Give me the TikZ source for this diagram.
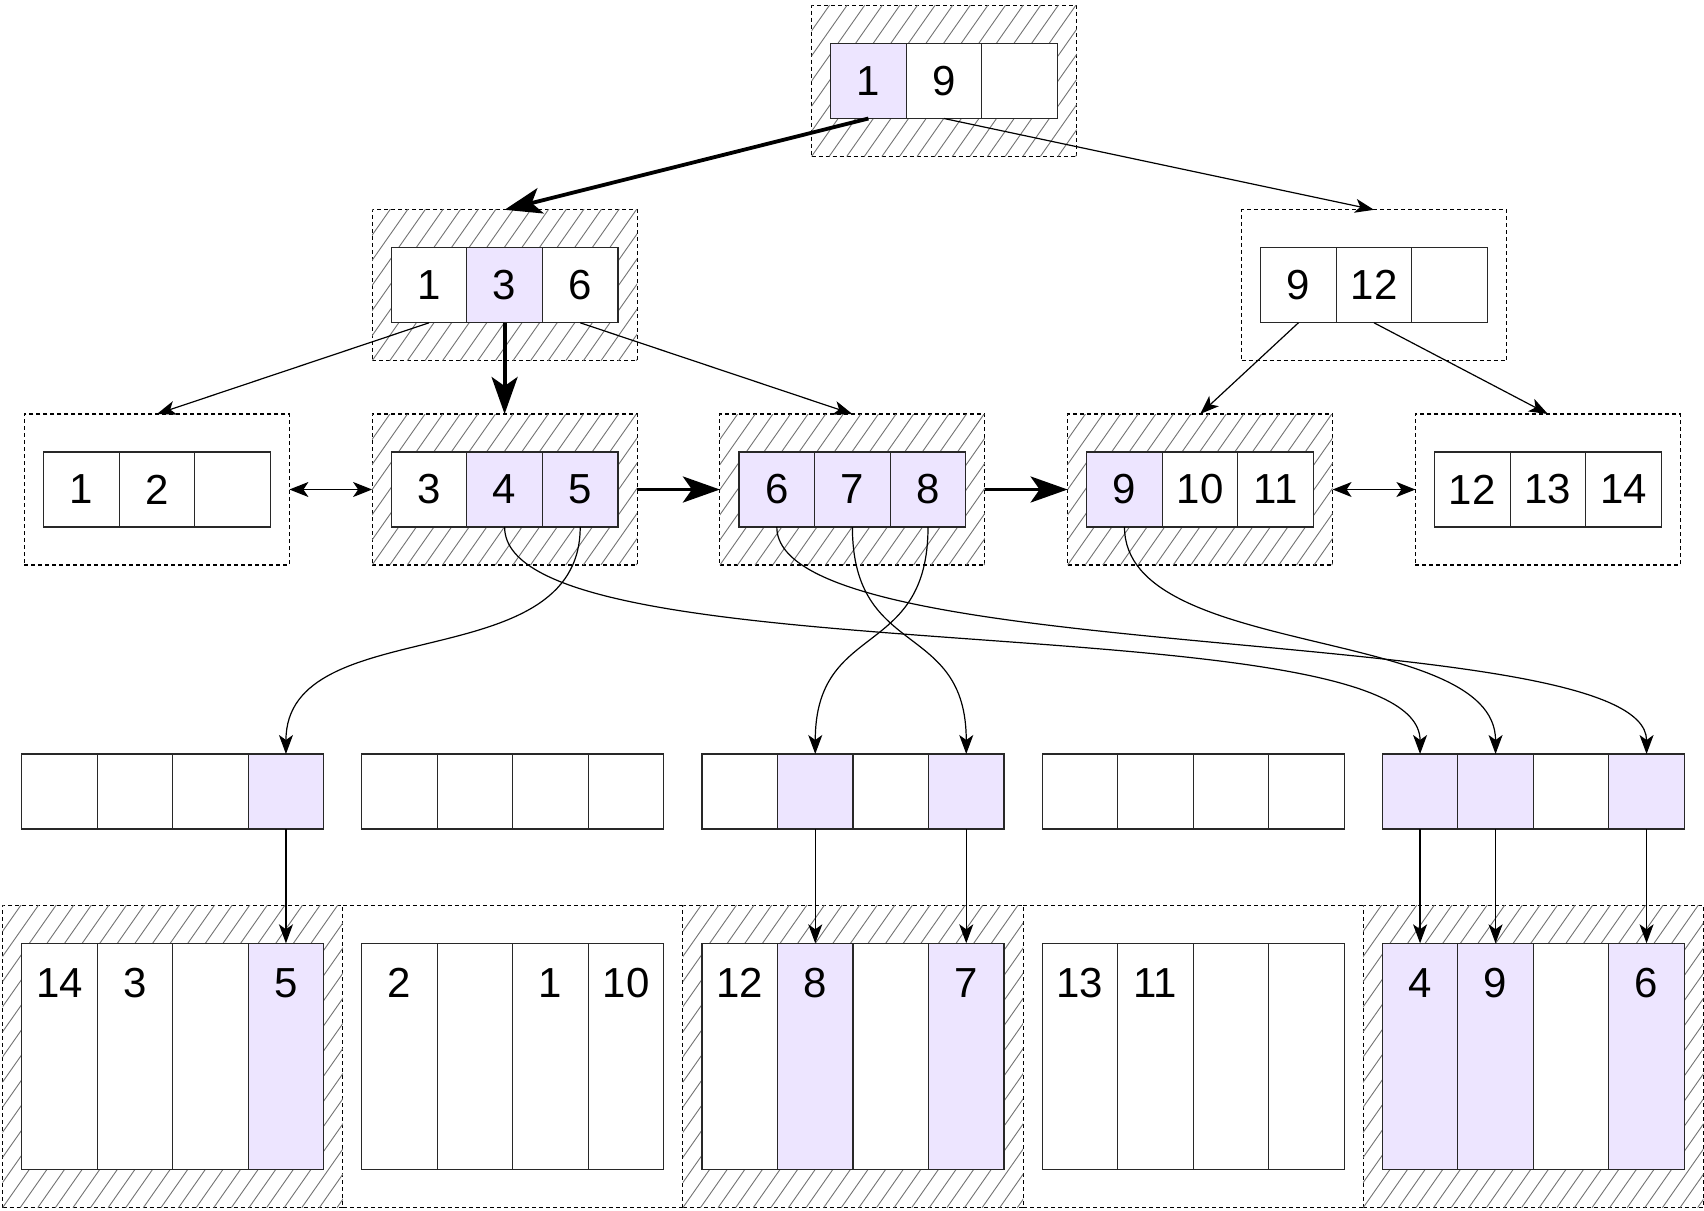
\documentclass[tikz,border=0pt]{standalone}
\usepackage{fontspec}
\setmainfont{Liberation Sans}
\usetikzlibrary{arrows.meta}
\definecolor{hlc}{RGB}{237,229,255}
\definecolor{cellline}{RGB}{40,40,40}
\tikzset{
  cell/.style={draw=cellline, line width=1.1pt, fill=white, minimum width=75.6pt, minimum height=75pt,
    inner sep=0pt, outer sep=0pt, anchor=north west, font=\fontsize{42}{48}\selectfont},
  rcell/.style={cell, minimum width=75.5pt},
  tallcell/.style={rcell, minimum height=226.4pt, text height=31pt, text depth=148.6pt},
  hl/.style={fill=hlc},
  dashline/.style={draw=black, line width=1.1pt, dash pattern=on 4pt off 3pt},
  pagebox/.style={dashline, inner sep=0pt, outer sep=0pt, minimum width=265pt, minimum height=151pt},
  bigpage/.style={pagebox, minimum width=340.2pt, minimum height=302.2pt},
  openpage/.style={inner sep=0pt, outer sep=0pt, minimum width=340.2pt, minimum height=302.2pt},
  hatchline/.style={draw=black!55, line width=0.9pt},
  thinarr/.style={draw=black, line width=1.2pt, -{Stealth[length=19pt,width=14pt,inset=5pt]}},
  dblarr/.style={draw=black, line width=1.2pt, {Stealth[length=19pt,width=15pt,inset=5pt]}-{Stealth[length=19pt,width=15pt,inset=5pt]}},
  thickarr/.style={draw=black, line width=3.8pt, -{Stealth[length=37pt,width=26pt,inset=9pt]}}
}
\newcommand\hatchbox[1]{%
  \begin{scope}
    \clip (#1.south west) rectangle (#1.north east);
    \foreach \k in {-14,...,22}
      \draw[hatchline] ([xshift=\k*17.6pt]#1.south west) -- ++(220,-314);
  \end{scope}}
\begin{document}
\begin{tikzpicture}[x=1pt,y=-1pt]
\fill[white] (0,0) rectangle (1704,1210);
\useasboundingbox (0,0) rectangle (1704,1210);

% ---------- dashed page boxes ----------
\node[pagebox] (tb) at (944,81) {};
\node[pagebox] (la) at (504.6,285.3) {};
\node[pagebox] (lb) at (1374,285.3) {};
\node[pagebox] (pa) at (156.9,489.5) {};
\node[pagebox] (pb) at (504.6,489.5) {};
\node[pagebox] (pc) at (852.4,489.5) {};
\node[pagebox] (pd) at (1200.1,489.5) {};
\node[pagebox] (pe) at (1547.9,489.5) {};
\node[bigpage] (bp1) at (172.7,1056.5) {};
\node[openpage] (bp2) at (512.85,1056.5) {};
\node[bigpage] (bp3) at (853.0,1056.5) {};
\node[openpage] (bp4) at (1193.15,1056.5) {};
\node[bigpage] (bp5) at (1533.3,1056.5) {};
\draw[dashline] (bp2.north west) -- (bp2.north east) (bp2.south west) -- (bp2.south east);
\draw[dashline] (bp4.north west) -- (bp4.north east) (bp4.south west) -- (bp4.south east);

\hatchbox{tb}
\hatchbox{la}
\hatchbox{pb}
\hatchbox{pc}
\hatchbox{pd}
\hatchbox{bp1}
\hatchbox{bp3}
\hatchbox{bp5}

% ---------- top node ----------
\node[cell,hl] (t1) at (830.6,43.5) {1};
\node[cell] (t2) at (t1.north east) {9};
\node[cell] (t3) at (t2.north east) {};

% ---------- level 1 ----------
\node[cell] (la1) at (391.2,247.8) {1};
\node[cell,hl] (la2) at (la1.north east) {3};
\node[cell] (la3) at (la2.north east) {6};
\node[cell] (lb1) at (1260.6,247.8) {9};
\node[cell] (lb2) at (lb1.north east) {12};
\node[cell] (lb3) at (lb2.north east) {};

% ---------- level 2 ----------
\node[cell] (pa1) at (43.5,452) {1};
\node[cell] (pa2) at (pa1.north east) {2};
\node[cell] (pa3) at (pa2.north east) {};
\node[cell] (pb1) at (391.2,452) {3};
\node[cell,hl] (pb2) at (pb1.north east) {4};
\node[cell,hl] (pb3) at (pb2.north east) {5};
\node[cell,hl] (pc1) at (739,452) {6};
\node[cell,hl] (pc2) at (pc1.north east) {7};
\node[cell,hl] (pc3) at (pc2.north east) {8};
\node[cell,hl] (pd1) at (1086.7,452) {9};
\node[cell] (pd2) at (pd1.north east) {10};
\node[cell] (pd3) at (pd2.north east) {11};
\node[cell] (pe1) at (1434.5,452) {12};
\node[cell] (pe2) at (pe1.north east) {13};
\node[cell] (pe3) at (pe2.north east) {14};

% ---------- slot rows ----------
\node[rcell] (r1-1) at (21.7,754) {};
\node[rcell] (r1-2) at (r1-1.north east) {};
\node[rcell] (r1-3) at (r1-2.north east) {};
\node[rcell,hl] (r1-4) at (r1-3.north east) {};
\node[rcell] (r2-1) at (361.85,754) {};
\node[rcell] (r2-2) at (r2-1.north east) {};
\node[rcell] (r2-3) at (r2-2.north east) {};
\node[rcell] (r2-4) at (r2-3.north east) {};
\node[rcell] (r3-1) at (702.0,754) {};
\node[rcell,hl] (r3-2) at (r3-1.north east) {};
\node[rcell] (r3-3) at (r3-2.north east) {};
\node[rcell,hl] (r3-4) at (r3-3.north east) {};
\node[rcell] (r4-1) at (1042.15,754) {};
\node[rcell] (r4-2) at (r4-1.north east) {};
\node[rcell] (r4-3) at (r4-2.north east) {};
\node[rcell] (r4-4) at (r4-3.north east) {};
\node[rcell,hl] (r5-1) at (1382.3,754) {};
\node[rcell,hl] (r5-2) at (r5-1.north east) {};
\node[rcell] (r5-3) at (r5-2.north east) {};
\node[rcell,hl] (r5-4) at (r5-3.north east) {};

% ---------- bottom pages ----------
\node[tallcell] (b1-1) at (21.7,943.3) {14};
\node[tallcell] (b1-2) at (b1-1.north east) {3};
\node[tallcell] (b1-3) at (b1-2.north east) {};
\node[tallcell,hl] (b1-4) at (b1-3.north east) {5};
\node[tallcell] (b2-1) at (361.85,943.3) {2};
\node[tallcell] (b2-2) at (b2-1.north east) {};
\node[tallcell] (b2-3) at (b2-2.north east) {1};
\node[tallcell] (b2-4) at (b2-3.north east) {10};
\node[tallcell] (b3-1) at (702.0,943.3) {12};
\node[tallcell,hl] (b3-2) at (b3-1.north east) {8};
\node[tallcell] (b3-3) at (b3-2.north east) {};
\node[tallcell,hl] (b3-4) at (b3-3.north east) {7};
\node[tallcell] (b4-1) at (1042.15,943.3) {13};
\node[tallcell] (b4-2) at (b4-1.north east) {11};
\node[tallcell] (b4-3) at (b4-2.north east) {};
\node[tallcell] (b4-4) at (b4-3.north east) {};
\node[tallcell,hl] (b5-1) at (1382.3,943.3) {4};
\node[tallcell,hl] (b5-2) at (b5-1.north east) {9};
\node[tallcell] (b5-3) at (b5-2.north east) {};
\node[tallcell,hl] (b5-4) at (b5-3.north east) {6};

% ---------- tree connectors ----------
\draw[thickarr] (t1.south) -- (la.north);
\draw[thinarr] (t2.south) -- (lb.north);
\draw[thinarr] (la1.south) -- (pa.north);
\draw[thickarr] (la2.south) -- (pb.north);
\draw[thinarr] (la3.south) -- (pc.north);
\draw[thinarr] (lb1.south) -- (pd.north);
\draw[thinarr] (lb2.south) -- (pe.north);

% ---------- sibling links ----------
\draw[dblarr] (pa.east) -- (pb.west);
\draw[thickarr] (pb.east) -- (pc.west);
\draw[thickarr] (pc.east) -- (pd.west);
\draw[dblarr] (pd.east) -- (pe.west);

% ---------- curved links to slots ----------
\draw[thinarr] (pb2.south) .. controls +(0,153) and +(0,-154) .. (r5-1.north);
\draw[thinarr] (pb3.south) .. controls +(0,153) and +(0,-144) .. (r1-4.north);
\draw[thinarr] (pc1.south) .. controls +(0,143) and +(0,-134) .. (r5-4.north);
\draw[thinarr] (pc2.south) .. controls +(0,133) and +(0,-134) .. (r3-4.north);
\draw[thinarr] (pc3.south) .. controls +(0,133) and +(0,-134) .. (r3-2.north);
\draw[thinarr] (pd1.south) .. controls +(0,133) and +(0,-129) .. (r5-2.north);

% ---------- slots to records ----------
\draw[thinarr] (r1-4.south) -- (b1-4.north);
\draw[thinarr] (r3-2.south) -- (b3-2.north);
\draw[thinarr] (r3-4.south) -- (b3-4.north);
\draw[thinarr] (r5-1.south) -- (b5-1.north);
\draw[thinarr] (r5-2.south) -- (b5-2.north);
\draw[thinarr] (r5-4.south) -- (b5-4.north);
\end{tikzpicture}
\end{document}
